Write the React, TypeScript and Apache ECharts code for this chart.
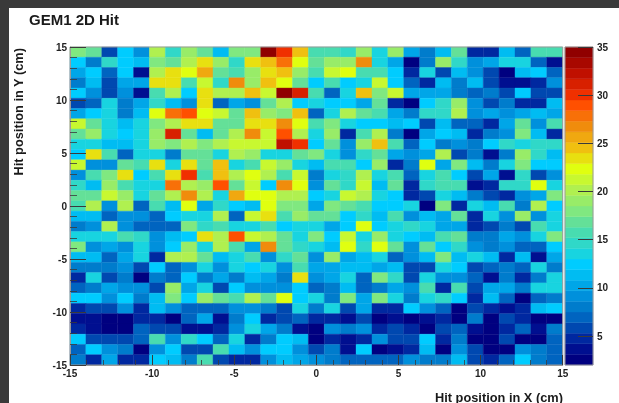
import React, { useEffect, useRef } from "react";
import * as echarts from "echarts";

const TITLE = "GEM1 2D Hit";
const X_NAME = "Hit position in X (cm)";
const Y_NAME = "Hit position in Y (cm)";

// Hit counts per bin: first row is the top of the plot (y = +15), first column is x = -15
const hitRows: number[][] = [
  [18,17,6,12,9,20,15,19,17,11,18,18,34,30,24,16,16,15,19,14,19,10,8,11,17,5,5,11,7,16,16],
  [12,8,15,12,11,18,17,20,23,19,15,23,24,28,22,17,19,19,27,13,10,3,8,19,15,9,10,13,13,7,4],
  [10,12,7,12,4,20,23,22,26,17,16,19,23,25,19,16,21,22,16,16,12,5,14,6,11,9,6,3,11,12,7],
  [8,11,6,10,10,23,23,16,21,15,27,19,25,22,17,12,16,12,13,21,12,7,5,11,8,11,6,4,4,5,9],
  [12,9,6,9,4,16,20,12,23,20,20,24,21,34,31,16,7,13,25,18,21,10,10,10,8,7,8,6,12,6,6],
  [6,7,13,8,10,15,11,9,23,7,10,9,17,20,12,13,12,12,10,17,5,3,12,15,19,9,6,8,5,5,11],
  [10,12,13,8,11,22,28,29,22,21,17,25,19,18,24,7,13,20,17,16,10,8,15,15,20,9,10,9,10,11,10],
  [21,17,13,11,13,18,20,23,23,17,17,23,23,27,22,16,18,13,12,12,11,12,6,11,7,7,5,10,17,9,16],
  [17,19,14,12,13,19,31,17,11,17,20,27,21,29,20,13,19,5,16,20,8,3,10,12,11,5,8,9,18,11,5],
  [14,14,11,11,13,19,18,20,18,20,21,21,21,32,30,12,17,9,19,25,16,7,12,8,9,8,12,15,13,15,15],
  [12,23,16,7,13,14,8,17,17,13,20,19,14,13,17,18,13,9,15,17,10,9,10,20,6,8,4,8,19,15,11],
  [21,9,9,17,16,23,13,23,17,25,13,16,21,19,13,11,16,16,12,19,5,8,22,10,18,11,8,13,18,12,12],
  [9,16,18,23,12,16,23,30,16,25,20,22,20,16,21,8,13,15,20,13,16,7,13,16,12,6,10,4,15,6,9],
  [15,11,19,16,13,13,28,20,19,29,17,21,12,27,22,9,17,15,21,11,17,5,15,16,16,4,5,15,15,22,13],
  [17,17,21,19,13,17,20,27,20,13,26,22,22,20,20,12,14,21,20,13,12,5,6,13,11,8,6,5,9,10,18],
  [16,20,9,20,7,16,11,22,10,15,12,11,22,18,18,10,18,17,16,12,12,13,3,18,5,13,11,16,8,20,12],
  [11,11,7,9,9,7,12,13,13,20,7,21,23,16,19,17,17,12,15,11,16,9,11,10,17,5,13,9,19,9,13],
  [8,9,20,9,7,7,7,18,15,16,13,13,16,12,14,13,10,12,22,12,13,15,13,10,10,5,6,8,6,16,13],
  [14,13,13,16,15,9,11,12,23,20,29,21,20,17,13,18,12,21,13,19,13,12,11,16,17,8,8,10,9,13,18],
  [18,9,10,9,13,9,12,19,13,20,16,10,27,17,15,14,11,22,15,22,17,9,17,12,15,9,8,9,7,7,12],
  [11,11,7,10,13,5,20,20,17,11,13,16,9,15,17,9,19,10,11,13,7,9,11,18,11,13,11,5,11,4,10],
  [8,8,8,9,6,12,7,9,13,9,13,12,13,9,16,10,10,11,11,10,11,6,6,13,12,6,7,8,7,14,8],
  [5,13,6,8,3,8,7,12,8,10,8,11,10,8,23,9,10,13,7,18,15,6,14,9,9,7,4,8,5,8,13],
  [7,8,10,9,9,6,19,10,13,6,12,9,9,9,12,7,8,11,7,8,10,9,16,5,16,6,10,10,8,13,13],
  [12,12,9,12,8,11,18,12,19,17,16,20,17,22,12,13,8,18,10,18,13,8,13,15,12,5,11,7,3,7,8],
  [5,6,6,9,5,11,9,7,7,7,9,9,8,6,13,8,13,6,10,5,5,12,9,7,3,6,5,4,5,11,12],
  [4,4,3,3,5,5,3,7,10,4,8,12,5,6,7,5,5,4,6,3,4,3,4,5,3,8,3,6,5,3,3],
  [5,4,3,3,7,6,6,4,4,5,9,13,10,8,4,3,9,8,9,5,6,5,3,6,7,4,3,5,7,4,8],
  [12,6,6,6,7,16,9,15,12,7,13,5,8,12,11,3,5,4,5,9,6,6,12,5,8,3,3,6,3,3,7],
  [7,12,9,8,3,9,12,6,6,16,11,9,12,12,9,6,8,4,12,3,4,5,11,3,9,6,3,3,9,8,7],
  [8,5,10,5,5,12,11,8,16,6,5,5,9,11,10,9,8,7,7,7,7,9,8,8,11,6,5,7,12,8,7],
];

// Colour bands of the palette, from the lowest count to the highest
const bandColors = [
  "#000080","#000f90","#0028a0","#0048b0","#0064c0","#007ccc","#0090dc","#00a6e8",
  "#00bcf2","#00ccff","#18d4e0","#30d8c8","#48dcb0","#64e098","#80e880","#98ec68",
  "#b0f050","#c8f830","#e0ff10","#e8e010","#f0c010","#f0a810","#f08c0c","#f87008",
  "#ff5000","#f03000","#d82000","#c01000","#a80800","#900000",
];
const COLOR_MIN = 2;
const COLOR_MAX = 35;
const colorTicks = [5, 10, 15, 20, 25, 30, 35];

const AXIS_MIN = -15;
const AXIS_MAX = 15;
const BINS = 31;
const binSize = (AXIS_MAX - AXIS_MIN) / BINS;
const bandSize = (COLOR_MAX - COLOR_MIN) / bandColors.length;

const colorOf = (v: number) => {
  const i = Math.floor((v - COLOR_MIN) / bandSize + 1e-6);
  return bandColors[Math.max(0, Math.min(bandColors.length - 1, i))];
};

const cells: number[][] = [];
hitRows.forEach((row, r) =>
  row.forEach((v, c) => {
    cells.push([AXIS_MIN + (c + 0.5) * binSize, AXIS_MAX - (r + 0.5) * binSize, v]);
  })
);
const bands = bandColors.map((_, i) => [0.5, COLOR_MIN + (i + 0.5) * bandSize, i]);

const labelStyle = {
  fontFamily: "Liberation Sans",
  fontWeight: "bold" as const,
  fontSize: 10,
  color: "#222",
};
const TICK = "#3a3a3a";
const FRAME = "#9a9a9a";

const valueAxis = (gridIndex: number, major: number, minor: number) => ({
  type: "value" as const,
  gridIndex,
  min: AXIS_MIN,
  max: AXIS_MAX,
  interval: 5,
  z: 10,
  splitLine: { show: false },
  axisLine: { show: true, onZero: false, lineStyle: { color: FRAME, width: 1 } },
  axisTick: { show: true, inside: true, length: major, lineStyle: { color: TICK, width: 1 } },
  minorTick: { show: true, splitNumber: 5, length: minor, lineStyle: { color: TICK, width: 1, opacity: 0.8 } },
  axisLabel: { ...labelStyle, margin: 3, showMinLabel: true, showMaxLabel: true, hideOverlap: false },
});

export default function App() {
  const ref = useRef<HTMLDivElement>(null);
  useEffect(() => {
    document.body.style.margin = "0";
    document.body.style.background = "#3a3a3a";
    const chart = echarts.init(ref.current!, undefined, { renderer: "svg" });
    chart.setOption({
      animation: false,
      backgroundColor: "#ffffff",
      title: {
        text: TITLE,
        left: 29,
        top: 12,
        padding: 0,
        textStyle: { fontFamily: "Liberation Sans", fontWeight: "bold", fontSize: 15, color: "#1a1a1a" },
      },
      grid: [
        { left: 70, top: 47, width: 492.7, height: 318, show: true, z: 6, borderColor: FRAME, borderWidth: 1, backgroundColor: "transparent" },
        { left: 565, top: 47, width: 28, height: 318, show: true, z: 6, borderColor: FRAME, borderWidth: 1, backgroundColor: "transparent" },
      ],
      xAxis: [
        valueAxis(0, 10, 5),
        { type: "value", gridIndex: 1, min: 0, max: 1, show: false },
      ],
      yAxis: [
        valueAxis(0, 16, 7),
        {
          type: "value",
          gridIndex: 1,
          position: "right",
          min: COLOR_MIN,
          max: COLOR_MAX,
          z: 10,
          splitLine: { show: false },
          axisLine: { show: false, onZero: false },
          axisTick: { show: true, inside: true, length: 15, customValues: colorTicks, lineStyle: { color: TICK, width: 1 } },
          axisLabel: { ...labelStyle, margin: 4, customValues: colorTicks, formatter: (v: number) => String(v) },
        },
      ],
      series: [
        {
          type: "custom",
          xAxisIndex: 0,
          yAxisIndex: 0,
          data: cells,
          encode: { x: 0, y: 1 },
          silent: true,
          renderItem: (_: any, api: any) => {
            const x = api.value(0);
            const y = api.value(1);
            const a = api.coord([x - binSize / 2, y + binSize / 2]);
            const b = api.coord([x + binSize / 2, y - binSize / 2]);
            const fill = colorOf(api.value(2));
            return {
              type: "rect",
              shape: { x: a[0], y: a[1], width: b[0] - a[0], height: b[1] - a[1] },
              style: { fill, stroke: fill, lineWidth: 0.4 },
            };
          },
        },
        {
          type: "custom",
          xAxisIndex: 1,
          yAxisIndex: 1,
          data: bands,
          encode: { x: 0, y: 1 },
          silent: true,
          renderItem: (_: any, api: any) => {
            const y = api.value(1);
            const a = api.coord([0, y + bandSize / 2]);
            const b = api.coord([1, y - bandSize / 2]);
            const fill = bandColors[api.value(2)];
            return {
              type: "rect",
              shape: { x: a[0], y: a[1], width: b[0] - a[0], height: b[1] - a[1] },
              style: { fill, stroke: fill, lineWidth: 0.4 },
            };
          },
        },
      ],
      graphic: [
        { type: "rect", left: 0, top: 0, shape: { width: 619, height: 8 }, style: { fill: "#3a3a3a" }, silent: true },
        { type: "rect", left: 0, top: 0, shape: { width: 9, height: 403 }, style: { fill: "#3a3a3a" }, silent: true },
        {
          type: "text",
          x: 435,
          y: 397,
          style: { text: X_NAME, fontFamily: "Liberation Sans", fontWeight: "bold", fontSize: 12.8, fill: "#1a1a1a", align: "left", verticalAlign: "middle" },
        },
        {
          type: "text",
          x: 18,
          y: 48,
          rotation: Math.PI / 2,
          style: { text: Y_NAME, fontFamily: "Liberation Sans", fontWeight: "bold", fontSize: 12.8, fill: "#1a1a1a", align: "right", verticalAlign: "middle" },
        },
      ],
    });
    return () => chart.dispose();
  }, []);
  return (
    <div
      ref={ref}
      style={{ position: "fixed", left: 0, top: 0, width: 619, height: 403, filter: "blur(0.5px)" }}
    />
  );
}
